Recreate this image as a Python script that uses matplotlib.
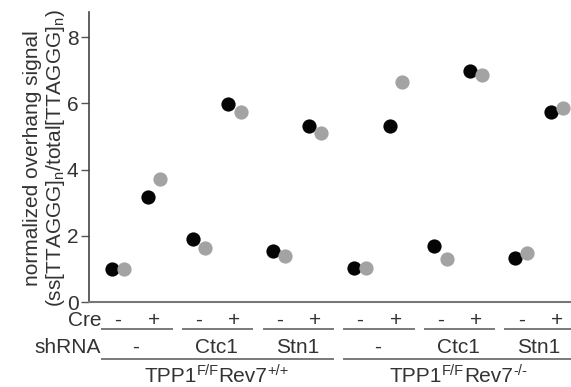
import numpy as np
import matplotlib.pyplot as plt

plt.rcParams['font.family'] = ['Liberation Sans', 'DejaVu Sans']
plt.rcParams['mathtext.fontset'] = 'custom'
plt.rcParams['mathtext.rm'] = 'Liberation Sans'
plt.rcParams['mathtext.it'] = 'Liberation Sans'
plt.rcParams['mathtext.bf'] = 'Liberation Sans'

# values (two replicates per condition)
rep1 = [1.0, 3.18, 1.89, 5.98, 1.55, 5.32, 1.03, 5.32, 1.69, 6.98, 1.33, 5.74]
rep2 = [1.0, 3.71, 1.64, 5.74, 1.39, 5.10, 1.03, 6.65, 1.30, 6.86, 1.48, 5.86]
cre = ['-', '+'] * 6
shrna = ['-', 'Ctc1', 'Stn1', '-', 'Ctc1', 'Stn1']
genotype = [('TPP1', 'F/F', 'Rev7', '+/+'),
            ('TPP1', 'F/F', 'Rev7', '-/-')]

# x positions: pairs of (-, +) Cre with gaps between pairs
x = np.array([2.25 * (i // 2) + (i % 2) for i in range(12)])
pair_x = x[::2]

W, H = 571, 387
fig = plt.figure(figsize=(W / 100, H / 100), dpi=100)
ax = fig.add_axes([89 / W, (H - 302) / H, (W - 89) / W, (302 - 12) / H])

fs = 15
ax.scatter(x - 0.17, rep1, s=105, color='#050505', zorder=3, linewidths=0)
ax.scatter(x + 0.17, rep2, s=105, color='#a3a3a3', zorder=3, linewidths=0)

ax.set_xlim(-0.81, 12.64)
ax.set_ylim(0, (302 - 12) / 33.1)
ax.set_yticks([0, 2, 4, 6, 8])
ax.set_xticks([])
ax.tick_params(axis='y', labelsize=fs, length=6, width=1.0, pad=1.5,
               color='#555555', labelcolor='#333333')
for s in ['top', 'right']:
    ax.spines[s].set_visible(False)
ax.spines['left'].set_color('#444444')
ax.spines['left'].set_linewidth(1.2)
ax.spines['bottom'].set_color('#777777')
ax.spines['bottom'].set_linewidth(1.5)

fig.text(45 / W, 1 - 158 / H,
         'normalized overhang signal\n'
         r'(ss[TTAGGG]$_{\mathregular{n}}$/total[TTAGGG]$_{\mathregular{n}}$)',
         rotation=90, ha='center', va='center', fontsize=fs,
         linespacing=1.1, color='#333333')

trans = ax.get_xaxis_transform()


def ya(p):
    return (302 - p) / 290


line_kw = dict(transform=trans, clip_on=False, color='#7a7a7a', lw=1.4)
txt_kw = dict(transform=trans, fontsize=fs, color='#333333', va='baseline')

# Cre row
ax.text(-0.47, ya(326), 'Cre', ha='right', **txt_kw)
for xi, c in zip(x, cre):
    ax.text(xi, ya(326), c, ha='center', **txt_kw)
for px in pair_x:
    ax.plot([px - 0.44, px + 1.5], [ya(329), ya(329)], **line_kw)

# shRNA row
ax.text(-0.47, ya(353), 'shRNA', ha='right', **txt_kw)
for px, s in zip(pair_x, shrna):
    ax.text(px + 0.5, ya(353), s, ha='center', **txt_kw)
for k in range(2):
    x0 = pair_x[3 * k] - 0.44
    x1 = pair_x[3 * k + 2] + 1.5
    ax.plot([x0, x1], [ya(359), ya(359)], **line_kw)

# genotype row: built from pieces so the superscripts keep plain hyphens
fig.canvas.draw()
renderer = fig.canvas.get_renderer()
for k in range(2):
    xm = (pair_x[3 * k] + pair_x[3 * k + 2] + 1) / 2
    parts = genotype[k]
    sizes = [fs, fs * 0.7, fs, fs * 0.7]
    rises = [0, 7, 0, 7]
    widths = []
    for p, sz in zip(parts, sizes):
        t = fig.text(0, 0, p, fontsize=sz)
        widths.append(t.get_window_extent(renderer).width)
        t.remove()
    xc = ax.transData.transform((xm, 0))[0]
    xp = xc - sum(widths) / 2
    for p, sz, r, w in zip(parts, sizes, rises, widths):
        fig.text(xp / W, (H - 382 + r) / H, p, fontsize=sz, color='#333333',
                 ha='left', va='baseline')
        xp += w

fig.savefig('out.png', dpi=100)
